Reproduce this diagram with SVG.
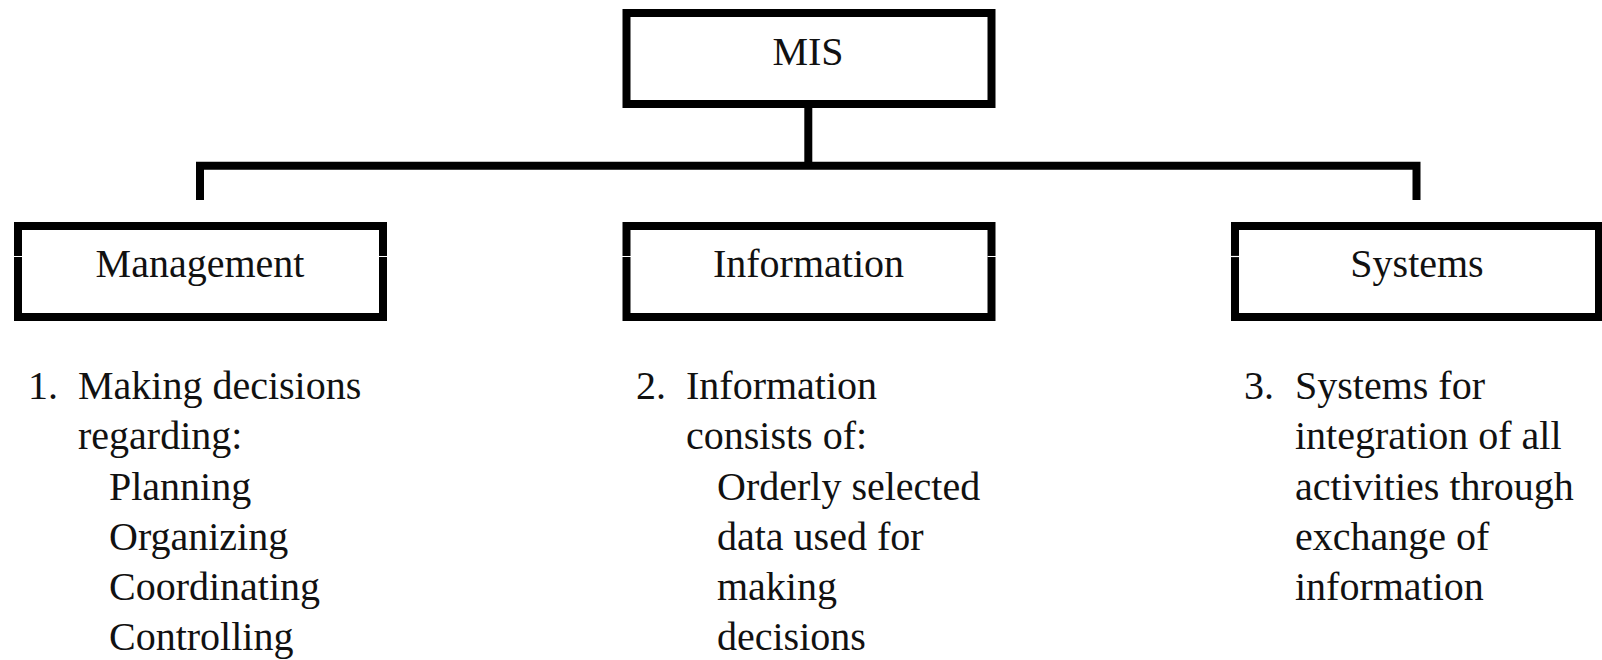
<svg xmlns="http://www.w3.org/2000/svg" width="1602" height="660" viewBox="0 0 1602 660">
  <style>
    .box { fill: #ffffff; stroke: #000000; stroke-width: 8; }
    .wire { fill: none; stroke: #000000; stroke-width: 8; stroke-linejoin: miter; stroke-linecap: butt; }
    .nick { stroke: #ffffff; stroke-width: 1.2; }
    .label { font-family: "Liberation Serif", "Times New Roman", serif; font-size: 40px; fill: #111111; text-anchor: middle; }
    .note { font-family: "Liberation Serif", "Times New Roman", serif; font-size: 40px; fill: #111111; }
  </style>
  <rect width="1602" height="660" fill="#ffffff"/>

  <!-- tree connectors -->
  <g id="connectors">
    <path class="wire" d="M808.3,104 V166"/>
    <path class="wire" d="M200,200 V165.7 H1416.5 V200"/>
  </g>

  <!-- root -->
  <g id="node-mis">
    <rect class="box" x="626.5" y="13" width="365" height="91"/>
    <text class="label" x="808" y="65">MIS</text>
  </g>

  <!-- branch: management -->
  <g id="node-management">
    <rect class="box" x="18" y="226" width="365" height="91"/>
    <path class="nick" d="M14,256.5 H22 M379,256.5 H387"/>
    <text class="label" x="200" y="277">Management</text>
  </g>
  <g id="note-management">
    <text class="note" x="28" y="399">1.</text>
    <text class="note" x="78" y="399">Making decisions</text>
    <text class="note" x="78" y="449">regarding:</text>
    <text class="note" x="109" y="500">Planning</text>
    <text class="note" x="109" y="550">Organizing</text>
    <text class="note" x="109" y="600">Coordinating</text>
    <text class="note" x="109" y="650">Controlling</text>
  </g>

  <!-- branch: information -->
  <g id="node-information">
    <rect class="box" x="626.5" y="226" width="365" height="91"/>
    <path class="nick" d="M622,256.5 H631 M987.5,256.5 H996"/>
    <text class="label" x="808.5" y="277">Information</text>
  </g>
  <g id="note-information">
    <text class="note" x="636" y="399">2.</text>
    <text class="note" x="686" y="399">Information</text>
    <text class="note" x="686" y="449">consists of:</text>
    <text class="note" x="717" y="500">Orderly selected</text>
    <text class="note" x="717" y="550">data used for</text>
    <text class="note" x="717" y="600">making</text>
    <text class="note" x="717" y="650">decisions</text>
  </g>

  <!-- branch: systems -->
  <g id="node-systems">
    <rect class="box" x="1235" y="226" width="364" height="91"/>
    <path class="nick" d="M1230,256.5 H1239.5"/>
    <text class="label" x="1417" y="277">Systems</text>
  </g>
  <g id="note-systems">
    <text class="note" x="1244" y="399">3.</text>
    <text class="note" x="1295" y="399">Systems for</text>
    <text class="note" x="1295" y="449">integration of all</text>
    <text class="note" x="1295" y="500">activities through</text>
    <text class="note" x="1295" y="550">exchange of</text>
    <text class="note" x="1295" y="600">information</text>
  </g>
</svg>
